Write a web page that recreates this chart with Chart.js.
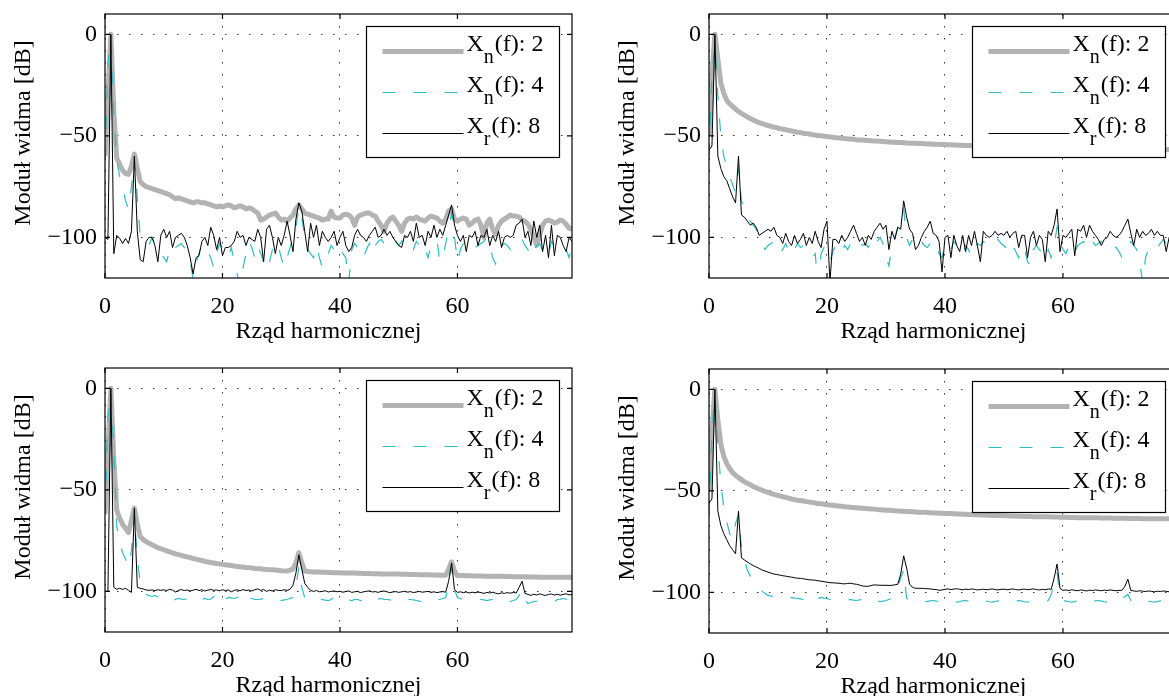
<!DOCTYPE html>
<html>
<head>
<meta charset="utf-8">
<script src="https://cdn.jsdelivr.net/npm/chart.js@4/dist/chart.umd.min.js"></script>
<style>
  html, body { margin: 0; padding: 0; background: #fff; overflow: hidden; }
  #page { position: relative; width: 1169px; height: 696px; overflow: hidden; background: #fff; }
  #page canvas { position: absolute; }
</style>
</head>
<body>
<div id="page">
  <canvas id="c1" width="600" height="348" style="left:0;top:0"></canvas>
  <canvas id="c2" width="602" height="348" style="left:604px;top:0"></canvas>
  <canvas id="c3" width="600" height="348" style="left:0;top:354px"></canvas>
  <canvas id="c4" width="602" height="348" style="left:604px;top:355px"></canvas>
</div>
<script>
// x positions (harmonic order), shared by every series
const harmonics = [
  0,0.5,1,1.5,2,2.5,3,3.5,4,4.5,5,5.5,6,6.5,7,7.5,8,8.5,9,9.5,
  10,10.5,11,11.5,12,12.5,13,13.5,14,14.5,15,15.5,16,16.5,17,17.5,18,18.5,19,19.5,
  20,20.5,21,21.5,22,22.5,23,23.5,24,24.5,25,25.5,26,26.5,27,27.5,28,28.5,29,29.5,
  30,30.5,31,31.5,32,32.5,33,33.5,34,34.5,35,35.5,36,36.5,37,37.5,38,38.5,39,39.5,
  40,40.5,41,41.5,42,42.5,43,43.5,44,44.5,45,45.5,46,46.5,47,47.5,48,48.5,49,49.5,
  50,50.5,51,51.5,52,52.5,53,53.5,54,54.5,55,55.5,56,56.5,57,57.5,58,58.5,59,59.5,
  60,60.5,61,61.5,62,62.5,63,63.5,64,64.5,65,65.5,66,66.5,67,67.5,68,68.5,69,69.5,
  70,70.5,71,71.5,72,72.5,73,73.5,74,74.5,75,75.5,76,76.5,77,77.5,78,78.5,79,79.5
];
const xTicks = [0, 20, 40, 60];
const yTicks = [-100, -50, 0];
const xTitle = 'Rząd harmonicznej';
const yTitle = 'Moduł widma [dB]';
// legend text split as [main, subscript, rest]
const seriesNames = [['X', 'n', '(f): 2'], ['X', 'n', '(f): 4'], ['X', 'r', '(f): 8']];

// top left
const tlXn2 = [
  -60,-30,0,-38,-61,-64,-67,-68.5,-69,-65,-59,-66,-72.5,-74,-75,-75.5,-76,-76.5,-77,-77.5,
  -78,-78.5,-79,-80,-81,-80.5,-81,-81.5,-82,-82.5,-83,-82.5,-82.5,-83,-83,-83.5,-84,-84.5,-85,-84.5,
  -85,-84.5,-84,-84.5,-85.5,-85,-84.5,-85,-86,-85.5,-86,-87,-88,-91.5,-91,-90,-89,-88.5,-88,-90,
  -91.5,-91,-92,-90.5,-89,-86,-84,-86,-88,-88.5,-89,-89.5,-90,-90.5,-91.5,-91,-91,-87,-90,-90.5,
  -90.5,-89,-88.5,-89,-90.5,-94,-90,-89,-88.5,-88,-88,-89,-89.5,-92,-94,-97,-93,-91,-90,-92,
  -94,-97,-93,-91,-90.5,-91,-90,-91,-91.5,-92,-90.5,-89.5,-90,-90.5,-92,-93,-91,-87,-86,-91,
  -92,-91,-90.5,-91,-94,-93,-91.5,-91,-94,-100,-93,-91,-96,-98.5,-94,-92,-91,-90,-89,-89.5,
  -89.5,-90,-91.5,-92,-93.5,-96,-100,-104,-99,-94,-92,-91.5,-92,-93,-92.5,-91.5,-92,-93.5,-95.5,-96
];
const tlXn4 = [
  -62,-15,-2,-40,-62,-70,-75,-82,-86,-75,-62,-80,-100,-102,-103,-104,-100,-103,-108,-108,
  -110,-112,-106,-108,-105,-104,-103,-105,-108,-112,-120,-113,-108,-103,-105,-107,-110,-115,-108,-103,
  -105,-108,-110,-105,-112,-118,-124,-115,-108,-102,-105,-110,-104,-108,-112,-124,-112,-106,-108,-104,
  -110,-115,-110,-105,-100,-95,-85,-90,-100,-106,-108,-110,-104,-110,-115,-110,-108,-104,-106,-103,
  -104,-108,-110,-122,-106,-103,-105,-110,-110,-106,-103,-108,-104,-102,-101,-103,-104,-106,-103,-102,
  -104,-102,-100,-101,-103,-106,-102,-104,-108,-106,-110,-104,-102,-101,-112,-110,-103,-96,-88,-100,
  -112,-106,-103,-102,-104,-103,-105,-104,-103,-102,-100,-104,-110,-113,-108,-104,-103,-104,-106,-104,
  -105,-103,-101,-104,-106,-110,-106,-104,-103,-107,-110,-108,-102,-104,-105,-104,-103,-106,-110,-104
];
const tlXr8 = [
  -100,-101,0,-108,-99,-100.5,-103,-100.5,-103,-97,-60,-97,-111,-112,-102,-100,-100,-104,-112,-99,
  -96,-100,-97,-105,-100,-99,-98,-100,-104,-110,-118,-110,-109,-102,-100,-104,-95,-99,-106,-100,
  -109,-105,-105,-104,-102,-97,-100,-99,-104,-100,-101,-102,-96,-100,-112,-96,-94,-100,-108,-100,
  -104,-99,-92,-99,-107,-91,-83,-87,-97,-107,-93,-100,-94,-104,-97,-100,-102,-100,-97,-104,
  -100,-97,-104,-107,-105,-99,-96,-99,-100,-102,-99,-97,-95,-100,-99,-96,-99,-97,-100,-102,
  -104,-105,-99,-100,-97,-102,-93,-100,-99,-104,-97,-100,-94,-100,-96,-99,-94,-89,-84,-94,
  -99,-102,-99,-107,-99,-100,-97,-104,-99,-100,-96,-104,-99,-102,-97,-105,-100,-99,-100,-99,
  -94,-93,-91,-100,-97,-104,-92,-100,-94,-107,-99,-110,-94,-109,-99,-100,-104,-107,-100,-102
];

// top right
const trXn2 = [
  -50,-20,0,-12,-24,-29,-32.5,-34.2,-35.5,-36.8,-38,-39,-39.8,-40.7,-41.5,-42.2,-42.9,-43.5,-44,-44.5,
  -44.9,-45.3,-45.7,-46,-46.4,-46.7,-47,-47.3,-47.6,-47.9,-48.2,-48.4,-48.7,-48.9,-49.1,-49.4,-49.6,-49.8,-50,-50.2,
  -50.3,-50.5,-50.7,-50.9,-51,-51.2,-51.3,-51.5,-51.6,-51.7,-51.9,-52,-52.1,-52.2,-52.3,-52.4,-52.5,-52.6,-52.7,-52.8,
  -52.9,-53,-53.1,-53.2,-53.3,-53.3,-53.4,-53.5,-53.6,-53.6,-53.7,-53.8,-53.8,-53.9,-54,-54,-54.1,-54.1,-54.2,-54.3,
  -54.3,-54.4,-54.4,-54.5,-54.5,-54.6,-54.6,-54.7,-54.7,-54.8,-54.8,-54.9,-54.9,-55,-55,-55,-55.1,-55.1,-55.2,-55.2,
  -55.2,-55.3,-55.3,-55.3,-55.4,-55.4,-55.4,-55.5,-55.5,-55.5,-55.6,-55.6,-55.6,-55.7,-55.7,-55.7,-55.8,-55.8,-55.8,-55.8,
  -55.9,-55.9,-55.9,-55.9,-56,-56,-56,-56,-56.1,-56.1,-56.1,-56.1,-56.2,-56.2,-56.2,-56.2,-56.3,-56.3,-56.3,-56.3,
  -56.3,-56.4,-56.4,-56.4,-56.4,-56.5,-56.5,-56.5,-56.5,-56.5,-56.6,-56.6,-56.6,-56.6,-56.6,-56.7,-56.7,-56.7,-56.7,-56.7
];
const trXn4 = [
  -60,-20,-5,-30,-50,-60,-65,-70,-74,-78,-66,-82,-86,-90,-92,-94,-96,-99,-102,-106,
  -104,-103,-102,-104,-108,-106,-103,-107,-104,-106,-103,-105,-104,-106,-109,-110,-108,-124,-108,-105,
  -108,-112,-107,-104,-106,-108,-104,-106,-103,-105,-104,-102,-104,-103,-105,-101,-104,-102,-100,-103,
  -110,-114,-104,-100,-95,-90,-86,-100,-104,-101,-103,-100,-102,-104,-105,-103,-106,-104,-108,-110,
  -104,-103,-106,-102,-104,-106,-109,-104,-106,-110,-105,-103,-104,-102,-103,-104,-102,-103,-101,-103,
  -104,-106,-102,-104,-107,-110,-104,-106,-112,-114,-106,-104,-106,-108,-111,-106,-110,-104,-95,-102,
  -106,-108,-104,-106,-108,-104,-103,-102,-105,-106,-102,-104,-103,-102,-104,-103,-102,-104,-105,-107,
  -110,-108,-103,-102,-104,-106,-112,-122,-110,-106,-104,-103,-105,-103,-101,-103,-104,-106,-105,-104
];
const trXr8 = [
  -57,-55,0,-60,-66,-70,-72,-76,-80,-83,-60,-89,-90,-92,-94,-93,-95,-99,-98,-97,
  -96,-97,-95,-99,-100,-103,-98,-102,-104,-99,-103,-101,-98,-104,-100,-103,-97,-102,-105,-96,
  -92,-122,-101,-101,-103,-99,-102,-100,-97,-94,-98,-102,-100,-104,-99,-101,-97,-95,-93,-96,
  -94,-106,-97,-101,-95,-96,-82,-90,-96,-98,-106,-104,-100,-97,-95,-92,-98,-99,-102,-117,
  -100,-99,-110,-99,-104,-107,-99,-107,-99,-104,-97,-104,-112,-97,-99,-100,-99,-97,-99,-98,
  -99,-97,-100,-98,-97,-105,-99,-99,-110,-100,-97,-104,-99,-101,-112,-97,-99,-94,-86,-107,
  -99,-100,-98,-96,-109,-96,-97,-94,-100,-94,-97,-99,-101,-104,-101,-100,-97,-99,-100,-99,
  -97,-94,-91,-98,-104,-96,-100,-97,-99,-98,-96,-99,-97,-99,-99,-107,-100,-98,-101,-103
];

// bottom left
const blXn2 = [
  -62,-30,0,-35,-60,-64,-67,-69,-71,-65,-59,-67,-73,-74.5,-75.5,-76.3,-77,-77.8,-78.5,-79,
  -79.5,-80,-80.5,-81,-81.5,-81.9,-82.3,-82.7,-83,-83.4,-83.8,-84.1,-84.5,-84.8,-85.2,-85.5,-85.8,-86,-86.3,-86.5,
  -86.7,-86.9,-87.1,-87.3,-87.5,-87.7,-87.9,-88,-88.2,-88.3,-88.5,-88.7,-88.8,-88.9,-89.1,-89.2,-89.3,-89.4,-89.5,-89.6,
  -89.8,-89.9,-90,-89.5,-89,-86,-81,-86,-90,-90.2,-90.3,-90.4,-90.5,-90.5,-90.6,-90.6,-90.7,-90.7,-90.8,-90.8,
  -90.8,-90.9,-90.9,-91,-91,-91,-91.1,-91.1,-91.2,-91.2,-91.2,-91.3,-91.3,-91.3,-91.4,-91.4,-91.4,-91.5,-91.5,-91.5,
  -91.5,-91.6,-91.6,-91.6,-91.7,-91.7,-91.7,-91.8,-91.8,-91.8,-91.8,-91.9,-91.9,-91.9,-92,-92,-92,-89,-85.5,-90,
  -92.2,-92.2,-92.2,-92.3,-92.3,-92.3,-92.4,-92.4,-92.4,-92.5,-92.5,-92.5,-92.5,-92.6,-92.6,-92.6,-92.7,-92.7,-92.7,-92.8,
  -92.8,-92.8,-92.8,-92.8,-92.9,-92.9,-92.9,-92.9,-93,-93,-93,-93,-93,-93,-93,-93,-93,-93,-93,-93
];
const blXn4 = [
  -62,-15,-2,-30,-68,-76,-81,-84,-88,-80,-62,-84,-96,-100,-101.5,-102,-102.5,-102,-102.8,-103.5,
  -103,-104,-103.5,-104.5,-104,-103.5,-103.8,-104,-103.5,-104.5,-105,-104,-104.5,-104,-103.5,-104,-103.8,-102.5,-101.5,-104,
  -105.5,-104,-103,-103.2,-103.5,-103,-102.5,-105.5,-104,-103,-103.5,-104,-104,-103.8,-103.5,-104,-104,-104.5,-104,-104.2,
  -104.5,-104.2,-104,-103.5,-103,-98,-88,-98,-103,-104,-104.5,-103.5,-104,-104.2,-104,-104.3,-104.5,-104,-103,-104,
  -105,-104.5,-104,-104.2,-104.5,-104,-104,-104.5,-105,-106,-105,-104.5,-104,-103.8,-103.5,-104,-104,-104.2,-104.5,-104,
  -104,-103.8,-103.5,-104,-104,-104.2,-104.5,-104.8,-105,-104,-103.5,-103.8,-104,-104,-104,-103.5,-103,-97,-88,-99,
  -103,-103.5,-104,-104.2,-104.5,-104.2,-104,-104,-104,-104.2,-104.5,-104.2,-104,-104.5,-105,-105.5,-106,-105.5,-105,-104.5,
  -104,-102,-99,-104,-106,-105.5,-105,-104.8,-104.5,-104.2,-104,-104.2,-104.5,-105,-104,-103.8,-103.5,-103.8,-104,-104
];
const blXr8 = [
  -100,-100,0,-98,-99,-98.5,-99,-98.5,-99.5,-100.5,-59,-98,-98.5,-98.8,-99.3,-99.5,-99.3,-99.6,-99.2,-99.5,
  -99.2,-99.6,-99,-99.4,-100.3,-99.5,-99.1,-99.6,-99.3,-99.8,-99.4,-99,-99.6,-99.2,-99.8,-99.4,-99,-99.5,-99.3,-99.7,
  -99.2,-99.6,-99.3,-100.2,-99.5,-99.2,-99.7,-99.1,-99.6,-99.3,-99.8,-99.2,-98.8,-99.5,-99.1,-100,-99.4,-99.8,-99.2,-99.5,
  -99.6,-99.2,-99.5,-99,-97,-91,-82,-89,-96,-98,-99.5,-100,-99.6,-100.2,-100,-99.7,-100.3,-100,-99.8,-100.2,
  -100,-100.4,-100.1,-99.8,-100.5,-100.2,-100,-100.6,-100.2,-100,-99.7,-100.3,-100.1,-100.5,-100,-99.8,-100.2,-100.6,-100.3,-100.1,
  -100.5,-100.2,-100,-100.4,-100.1,-100.6,-100.3,-100,-100.4,-100.2,-100,-100.5,-100.2,-100.6,-100.3,-100.1,-100.4,-95,-86,-99,
  -100.5,-100.2,-100.6,-100.3,-100.8,-100.4,-100.7,-100.3,-100.6,-101,-100.5,-100.8,-100.4,-100.9,-101.2,-100.7,-101,-100.6,-100.9,-100.5,
  -100.8,-98,-95,-101,-101.5,-102,-101.4,-101.8,-101.2,-101.7,-102,-101.5,-101.3,-101.8,-101.4,-101.9,-101.5,-101.2,-101.7,-101.5
];

// bottom right
const brXn2 = [
  -50,-20,0,-15,-27,-33,-36.5,-39,-41,-42.3,-43.5,-44.5,-45.5,-46.3,-47,-47.8,-48.5,-49.1,-49.7,-50.3,
  -50.8,-51.3,-51.7,-52.1,-52.5,-52.9,-53.2,-53.6,-54,-54.3,-54.6,-54.8,-55,-55.3,-55.5,-55.7,-56,-56.2,-56.4,-56.6,
  -56.8,-57,-57.1,-57.3,-57.5,-57.6,-57.8,-57.9,-58.1,-58.2,-58.3,-58.5,-58.6,-58.7,-58.8,-58.9,-59,-59.2,-59.3,-59.4,
  -59.5,-59.6,-59.7,-59.8,-59.9,-60,-60.1,-60.2,-60.2,-60.3,-60.4,-60.5,-60.6,-60.6,-60.7,-60.8,-60.9,-60.9,-61,-61,
  -61.1,-61.2,-61.2,-61.3,-61.4,-61.4,-61.5,-61.5,-61.6,-61.7,-61.8,-61.8,-61.9,-61.9,-62,-62,-62.1,-62.1,-62.2,-62.2,
  -62.3,-62.3,-62.4,-62.4,-62.5,-62.5,-62.5,-62.6,-62.6,-62.6,-62.7,-62.7,-62.7,-62.8,-62.8,-62.8,-62.9,-62.9,-62.9,-63,
  -63,-63,-63.1,-63.1,-63.1,-63.2,-63.2,-63.2,-63.2,-63.3,-63.3,-63.3,-63.3,-63.4,-63.4,-63.4,-63.4,-63.5,-63.5,-63.5,
  -63.5,-63.5,-63.6,-63.6,-63.6,-63.6,-63.6,-63.7,-63.7,-63.7,-63.7,-63.7,-63.8,-63.8,-63.8,-63.8,-63.8,-63.9,-63.9,-63.9
];
const brXn4 = [
  -62,-20,-3,-28,-46,-58,-65,-71,-74,-66,-62,-78,-84,-89,-92,-94,-96,-98,-99.5,-100.5,
  -101.5,-101.8,-102,-102.3,-102.5,-102.8,-103,-102.7,-102.5,-102.8,-103,-103.2,-103.5,-103.2,-102.5,-103,-104.5,-103,-102.5,-102.8,
  -103,-103.5,-104,-104.3,-104.5,-104.2,-104,-103.8,-103.5,-103.8,-104,-103.7,-103.5,-103,-102.5,-103.2,-104,-104.2,-104.5,-104.3,
  -104,-103.5,-103,-100,-97,-93,-89,-103,-104,-104.3,-104.5,-104.2,-104,-104.3,-104.5,-104.2,-104,-104.3,-104.5,-104.5,
  -104.2,-104,-104.3,-104.6,-104.8,-104.5,-104.2,-104,-104.3,-104.6,-104.8,-104.5,-104.2,-104,-104.3,-104.6,-104.8,-104.5,-104.2,-104.1,
  -104.3,-104.6,-104.8,-104.5,-104.2,-104,-104.3,-104.6,-104.8,-104.5,-104.2,-104,-104.3,-104.6,-104.4,-104,-101,-95,-90,-103,
  -104,-104.3,-104.6,-104.8,-104.5,-104.2,-104,-104.3,-104.6,-104.8,-104.5,-104.2,-104,-104.3,-104.6,-104.8,-104.5,-104.2,-104,-104.3,
  -104,-102,-101,-104,-105,-104.8,-104.5,-104.2,-104,-104.3,-104.6,-104.8,-104.5,-104.2,-104,-104.3,-104.6,-104.8,-104.5,-104.2
];
const brXr8 = [
  -56,-54,0,-60,-67,-71,-74,-77,-79,-81,-60,-83,-84,-85,-86,-86.8,-87.5,-88.2,-89,-89.5,
  -90,-90.5,-91,-91.2,-91.5,-91.8,-92,-92.3,-92.5,-92.8,-93,-93.1,-93.3,-93.6,-93.8,-93.9,-94,-94.3,-94.5,-94.7,
  -95,-95.2,-95.3,-95.4,-95.5,-95.7,-95.8,-95.6,-95.5,-95.8,-96,-96.4,-96.8,-97,-97,-96.6,-96.3,-96.4,-96.5,-96.5,
  -96.5,-96.6,-96.5,-96.3,-96,-91,-82,-88,-96,-97.5,-98,-98,-98,-98.1,-98.2,-98.3,-98.5,-98.6,-99,-98.8,
  -98.5,-98.3,-98.6,-98.4,-98.2,-98.5,-98.7,-98.4,-98.6,-98.3,-98.5,-98.8,-98.6,-98.4,-98.7,-98.5,-98.3,-98.6,-98.8,-98.5,
  -98.4,-98.7,-98.5,-98.3,-98.6,-98.8,-98.5,-98.4,-98.7,-98.5,-98.3,-98.6,-98.8,-98.5,-98.7,-98.3,-98.5,-93,-86,-98,
  -99,-98.8,-99.1,-98.7,-99,-99.2,-98.8,-99,-99.3,-98.9,-99.1,-98.8,-99,-99.2,-98.9,-99.1,-98.8,-99,-99.2,-99,
  -99,-97,-93.5,-99,-99.3,-99.5,-99.2,-99.4,-99.6,-99.3,-99.5,-99.7,-99.4,-99.6,-99.3,-99.5,-99.7,-99.4,-99.6,-99.5
];

const serif = '"Liberation Serif", "Times New Roman", serif';
Chart.defaults.font.family = serif;
Chart.defaults.color = '#000';

const grayColor = '#b3b3b3';
const cyanColor = '#2dbdc0';
const gridColor = 'rgba(0,0,0,0.8)';

// axes box, inward ticks, axis titles and the boxed legend (MATLAB look)
const matlabAxes = {
  id: 'matlabAxes',
  afterDraw(chart) {
    const { ctx, chartArea: a, scales } = chart;
    ctx.save();
    ctx.strokeStyle = '#000';
    ctx.lineWidth = 1.2;
    ctx.strokeRect(a.left, a.top, a.right - a.left, a.bottom - a.top);
    ctx.beginPath();
    xTicks.forEach(v => {
      const px = scales.x.getPixelForValue(v);
      ctx.moveTo(px, a.bottom); ctx.lineTo(px, a.bottom - 5);
      ctx.moveTo(px, a.top); ctx.lineTo(px, a.top + 5);
    });
    yTicks.forEach(v => {
      const py = scales.y.getPixelForValue(v);
      ctx.moveTo(a.left, py); ctx.lineTo(a.left + 5, py);
      ctx.moveTo(a.right, py); ctx.lineTo(a.right - 5, py);
    });
    ctx.stroke();

    // axis titles
    ctx.fillStyle = '#000';
    ctx.font = '24px ' + serif;
    ctx.textAlign = 'center';
    ctx.textBaseline = 'alphabetic';
    ctx.fillText(xTitle, (a.left + a.right) / 2 - 10, a.bottom + 60);
    ctx.save();
    ctx.translate(30, (a.top + a.bottom) / 2 - 13);
    ctx.rotate(-Math.PI / 2);
    ctx.fillText(yTitle, 0, 0);
    ctx.restore();

    // legend
    const bw = 193, bh = 131;
    const bx = a.right - 12.5 - bw, by = a.top + 12.5;
    ctx.fillStyle = '#fff';
    ctx.fillRect(bx, by, bw, bh);
    ctx.lineWidth = 1.2;
    ctx.strokeRect(bx, by, bw, bh);
    const rows = [25, 66, 107];
    ctx.textAlign = 'left';
    chart.data.datasets.forEach((ds, i) => {
      const y = by + rows[i];
      ctx.save();
      ctx.strokeStyle = ds.borderColor;
      ctx.lineWidth = ds.borderWidth;
      ctx.setLineDash(ds.borderDash || []);
      ctx.beginPath();
      ctx.moveTo(bx + 16, y);
      ctx.lineTo(bx + 97, y);
      ctx.stroke();
      ctx.restore();
      const [main, sub, rest] = seriesNames[i];
      let tx = bx + 100;
      ctx.fillStyle = '#000';
      ctx.font = '24px ' + serif;
      ctx.fillText(main, tx, y - 1);
      tx += ctx.measureText(main).width;
      ctx.font = '20px ' + serif;
      ctx.fillText(sub, tx, y + 11);
      tx += ctx.measureText(sub).width + 1;
      ctx.font = '24px ' + serif;
      ctx.fillText(rest, tx, y - 1);
    });
    ctx.restore();
  }
};

// keep the plot box where the reference has it, labels may overhang
function noPadding(s) {
  s.paddingTop = 0;
  s.paddingBottom = 0;
  s.paddingLeft = 0;
  s.paddingRight = 0;
}

function makeChart(id, xn2, xn4, xr8) {
  const ctx = document.getElementById(id).getContext('2d');
  return new Chart(ctx, {
    type: 'line',
    data: {
      labels: harmonics,
      datasets: [
        { label: 'Xn(f): 2', data: xn2, borderColor: grayColor, borderWidth: 5,
          borderJoinStyle: 'round', order: 3 },
        { label: 'Xn(f): 4', data: xn4, borderColor: cyanColor, borderWidth: 1.2,
          borderDash: [13, 18], order: 2 },
        { label: 'Xr(f): 8', data: xr8, borderColor: '#000', borderWidth: 1, order: 1 }
      ]
    },
    options: {
      responsive: false,
      animation: false,
      events: [],
      layout: { padding: { top: 14, right: 28, left: 0, bottom: 0 } },
      elements: { point: { radius: 0 }, line: { tension: 0, fill: false } },
      datasets: { line: { clip: 0 } },
      plugins: { legend: { display: false }, tooltip: { enabled: false } },
      scales: {
        x: {
          type: 'linear', min: 0, max: 79.5,
          afterBuildTicks: s => { s.ticks = xTicks.map(v => ({ value: v })); },
          afterFit: s => { s.height = 70; noPadding(s); },
          grid: { color: gridColor, lineWidth: 1, drawTicks: false },
          border: { display: false, dash: [1.5, 10.5] },
          ticks: { font: { size: 24 }, padding: 14, maxRotation: 0, autoSkip: false,
                   callback: v => String(v) }
        },
        y: {
          type: 'linear', min: -120, max: 10,
          afterBuildTicks: s => { s.ticks = yTicks.map(v => ({ value: v })); },
          afterFit: s => { s.width = 105; noPadding(s); },
          grid: { color: gridColor, lineWidth: 1, drawTicks: false },
          border: { display: false, dash: [1.5, 10.5] },
          ticks: { font: { size: 24 }, padding: 8,
                   callback: v => String(v).replace('-', '\u2212') }
        }
      }
    },
    plugins: [matlabAxes]
  });
}

makeChart('c1', tlXn2, tlXn4, tlXr8);
makeChart('c2', trXn2, trXn4, trXr8);
makeChart('c3', blXn2, blXn4, blXr8);
makeChart('c4', brXn2, brXn4, brXr8);
</script>
</body>
</html>
